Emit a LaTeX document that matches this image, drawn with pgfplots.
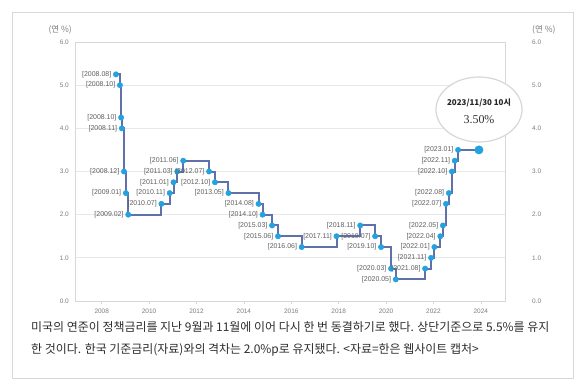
\documentclass[border=0pt]{standalone}
\usepackage{fontspec}
\setmainfont{Liberation Sans}
\newfontfamily\kr{Noto Sans CJK KR}
\newfontfamily\sernum{Liberation Serif}
\usepackage{pgfplots}
\usepackage{pgfplotstable}
\pgfplotsset{compat=1.18}
\definecolor{linec}{RGB}{96,112,170}
\definecolor{markc}{RGB}{34,162,222}
\definecolor{gridc}{RGB}{232,232,232}
\definecolor{boxc}{RGB}{215,215,215}
\definecolor{ticktext}{RGB}{125,125,125}
\definecolor{labtext}{RGB}{95,95,95}
\definecolor{captext}{RGB}{45,45,45}

\pgfplotstableread{
x y lab
2008.60 5.25 2008.08
2008.77 5.00 2008.10
2008.82 4.25 2008.10
2008.85 4.00 2008.11
2008.94 3.00 2008.12
2009.02 2.50 2009.01
2009.12 2.00 2009.02
2010.52 2.25 2010.07
2010.87 2.50 2010.11
2011.03 2.75 2011.01
2011.19 3.00 2011.03
2011.44 3.25 2011.06
2012.53 3.00 2012.07
2012.78 2.75 2012.10
2013.35 2.50 2013.05
2014.62 2.25 2014.08
2014.79 2.00 2014.10
2015.19 1.75 2015.03
2015.44 1.50 2015.06
2016.44 1.25 2016.06
2017.91 1.50 2017.11
2018.91 1.75 2018.11
2019.54 1.50 2019.07
2019.79 1.25 2019.10
2020.21 0.75 2020.03
2020.41 0.50 2020.05
2021.65 0.75 2021.08
2021.90 1.00 2021.11
2022.04 1.25 2022.01
2022.29 1.50 2022.04
2022.40 1.75 2022.05
2022.53 2.25 2022.07
2022.65 2.50 2022.08
2022.78 3.00 2022.10
2022.90 3.25 2022.11
2023.04 3.50 2023.01
2023.92 3.50 end
}\rates

\begin{document}
\begin{tikzpicture}
\useasboundingbox (0,0) rectangle (581bp,385bp);
\fill[white] (0,0) rectangle (581bp,385bp);
\draw[boxc, line width=0.8bp] (12bp,7bp) rectangle (573bp,373bp);
\begin{axis}[
  at={(75bp,84bp)}, anchor=south west,
  scale only axis, width=430bp, height=259bp,
  xmin=2006.873, xmax=2025.02, ymin=0, ymax=6,
  xtick={2008,2010,...,2024}, ytick={0,1,...,6},
  xtick pos=bottom, ytick pos=left,
  tick align=outside, major tick length=3bp,
  xtick style={draw=boxc, line width=0.6bp},
  ytick style={draw=none},
  axis line style={draw=boxc, line width=0.7bp},
  ymajorgrids, grid style={draw=gridc, line width=0.7bp},
  /pgf/number format/assume math mode=true,
  /pgf/number format/1000 sep={},
  yticklabel={\pgfmathprintnumber[fixed,fixed zerofill,precision=1]{\tick}},
  yticklabel style={font=\fontsize{6.5}{7}\selectfont, text=ticktext, inner sep=0pt, anchor=east, xshift=-3bp},
  xticklabel style={font=\fontsize{6.5}{7}\selectfont, text=ticktext, inner sep=0pt, anchor=north, yshift=-5bp},
  clip=false,
]
\addplot[const plot, linec, line width=2bp, no marks] table[x=x, y=y] {\rates};
\addplot[only marks, mark=*, mark size=2.7bp, mark options={fill=markc, draw=markc},
  restrict x to domain=2000:2023.5,
  point meta=explicit symbolic,
  nodes near coords={[\pgfplotspointmeta]},
  every node near coord/.append style={font=\fontsize{7}{8}\selectfont, text=labtext, anchor=east, inner sep=0pt, xshift=-4.5bp}
] table[x=x, y=y, meta=lab] {\rates};
\addplot[only marks, mark=*, mark size=4.2bp, mark options={fill=markc, draw=markc},
  restrict x to domain=2023.5:2030] table[x=x, y=y] {\rates};
\end{axis}
\begin{axis}[
  at={(75bp,84bp)}, anchor=south west,
  scale only axis, width=430bp, height=259bp,
  xmin=2006.873, xmax=2025.02, ymin=0, ymax=6,
  ytick={0,1,...,6}, xtick=\empty,
  ytick pos=right, yticklabel pos=right,
  axis line style={draw=none}, ytick style={draw=none},
  /pgf/number format/assume math mode=true,
  yticklabel={\pgfmathprintnumber[fixed,fixed zerofill,precision=1]{\tick}},
  yticklabel style={font=\fontsize{6.5}{7}\selectfont, text=ticktext, inner sep=0pt, anchor=west, xshift=27bp},
]
\addplot[draw=none, forget plot] coordinates {(2010,1)};
\end{axis}
\node[anchor=east, inner sep=0pt, text=ticktext] at (72bp,355bp) {\kr\fontsize{8.5}{9}\selectfont (연 \%)};
\node[anchor=west, inner sep=0pt, text=ticktext] at (532bp,355bp) {\kr\fontsize{8.5}{9}\selectfont (연 \%)};
\draw[boxc, fill=white, line width=1.2bp] (479bp,275.5bp) ellipse [x radius=43bp, y radius=32.5bp];
\node[inner sep=0pt, text=black!85] at (479bp,282bp) {\kr\bfseries\fontsize{8}{9}\selectfont 2023/11/30 10시};
\node[inner sep=0pt, text=black!80] at (479bp,265bp) {\sernum\fontsize{12}{13}\selectfont 3.50\%};
\node[anchor=west, inner sep=0pt, text=captext] at (31bp,58bp) {\kr\fontsize{12}{13}\selectfont 미국의 연준이 정책금리를 지난 9월과 11월에 이어 다시 한 번 동결하기로 했다. 상단기준으로 5.5\%를 유지};
\node[anchor=west, inner sep=0pt, text=captext] at (31bp,35bp) {\kr\fontsize{12}{13}\selectfont 한 것이다. 한국 기준금리(자료)와의 격차는 2.0\%p로 유지됐다. <자료=한은 웹사이트 캡처>};
\end{tikzpicture}
\end{document}
